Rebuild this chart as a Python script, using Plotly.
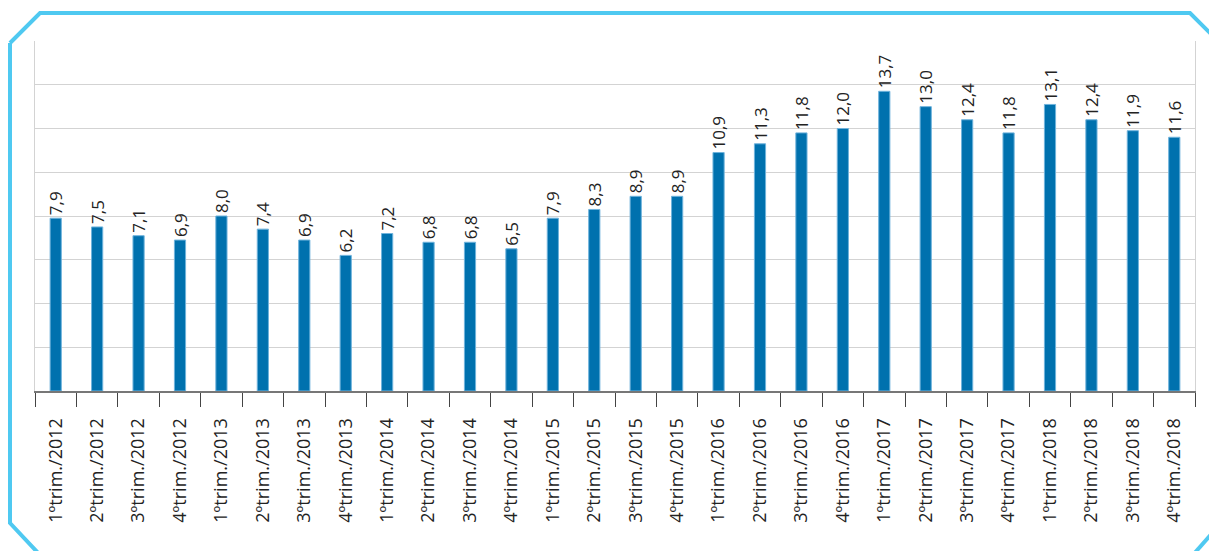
import plotly.graph_objects as go

categories = [
    "1ºtrim./2012", "2ºtrim./2012", "3ºtrim./2012", "4ºtrim./2012",
    "1ºtrim./2013", "2ºtrim./2013", "3ºtrim./2013", "4ºtrim./2013",
    "1ºtrim./2014", "2ºtrim./2014", "3ºtrim./2014", "4ºtrim./2014",
    "1ºtrim./2015", "2ºtrim./2015", "3ºtrim./2015", "4ºtrim./2015",
    "1ºtrim./2016", "2ºtrim./2016", "3ºtrim./2016", "4ºtrim./2016",
    "1ºtrim./2017", "2ºtrim./2017", "3ºtrim./2017", "4ºtrim./2017",
    "1ºtrim./2018", "2ºtrim./2018", "3ºtrim./2018", "4ºtrim./2018",
]
values = [
    7.9, 7.5, 7.1, 6.9,
    8.0, 7.4, 6.9, 6.2,
    7.2, 6.8, 6.8, 6.5,
    7.9, 8.3, 8.9, 8.9,
    10.9, 11.3, 11.8, 12.0,
    13.7, 13.0, 12.4, 11.8,
    13.1, 12.4, 11.9, 11.6,
]
value_labels = [f"{v:.1f}".replace(".", ",") for v in values]

W, H = 1209, 551
ML, MR, MT, MB = 35, 14, 41, 160
PW, PH = W - ML - MR, H - MT - MB

def px(x):
    return (x - ML) / PW

def py(y):
    return 1 - (y - MT) / PH

fig = go.Figure(
    go.Bar(
        x=categories,
        y=values,
        text=value_labels,
        textposition="outside",
        textangle=-90,
        constraintext="none",
        textfont=dict(family="Open Sans", size=17, color="#222222"),
        cliponaxis=False,
        marker=dict(color="#0071AE", line=dict(color="#6fb3dc", width=1)),
        width=0.27,
    )
)

# octagonal light-blue frame
path_top = f"M {px(10)} {py(43)} L {px(40)} {py(13)} L {px(1190)} {py(13)} L {px(1222)} {py(45)}"
path_bl = f"M {px(10)} {py(43)} L {px(10)} {py(523)} L {px(40)} {py(555)}"
path_br = f"M {px(1192)} {py(556)} L {px(1215)} {py(530)}"
for p in (path_top, path_bl, path_br):
    fig.add_shape(type="path", path=p, xref="paper", yref="paper",
                  line=dict(color="#4FC9F1", width=4))

fig.update_layout(
    width=W, height=H,
    margin=dict(l=ML, r=MR, t=MT, b=MB, autoexpand=False),
    paper_bgcolor="white",
    plot_bgcolor="white",
    showlegend=False,
    bargap=0.7,
    font=dict(family="Open Sans", color="#222222"),
)
fig.update_xaxes(
    type="category",
    tickangle=-90,
    automargin=False,
    tickfont=dict(family="Open Sans", size=18, color="#222222"),
    showline=True, linecolor="#777777", linewidth=2,
    ticks="outside", ticklen=14, tickcolor="#444444", tickwidth=1,
    tickson="boundaries",
    ticklabelstandoff=18,
    showgrid=False,
)
fig.update_yaxes(
    range=[0, 16], dtick=2,
    automargin=False,
    showticklabels=False,
    showgrid=True, gridcolor="#d3d3d3", gridwidth=1,
    showline=True, linecolor="#d3d3d3", linewidth=1, mirror=True,
    zeroline=False,
    ticks="",
)

fig.write_html(
    "out.html",
    config={"displayModeBar": False},
    post_script="document.body.style.margin='0';document.body.style.overflow='hidden';",
)
